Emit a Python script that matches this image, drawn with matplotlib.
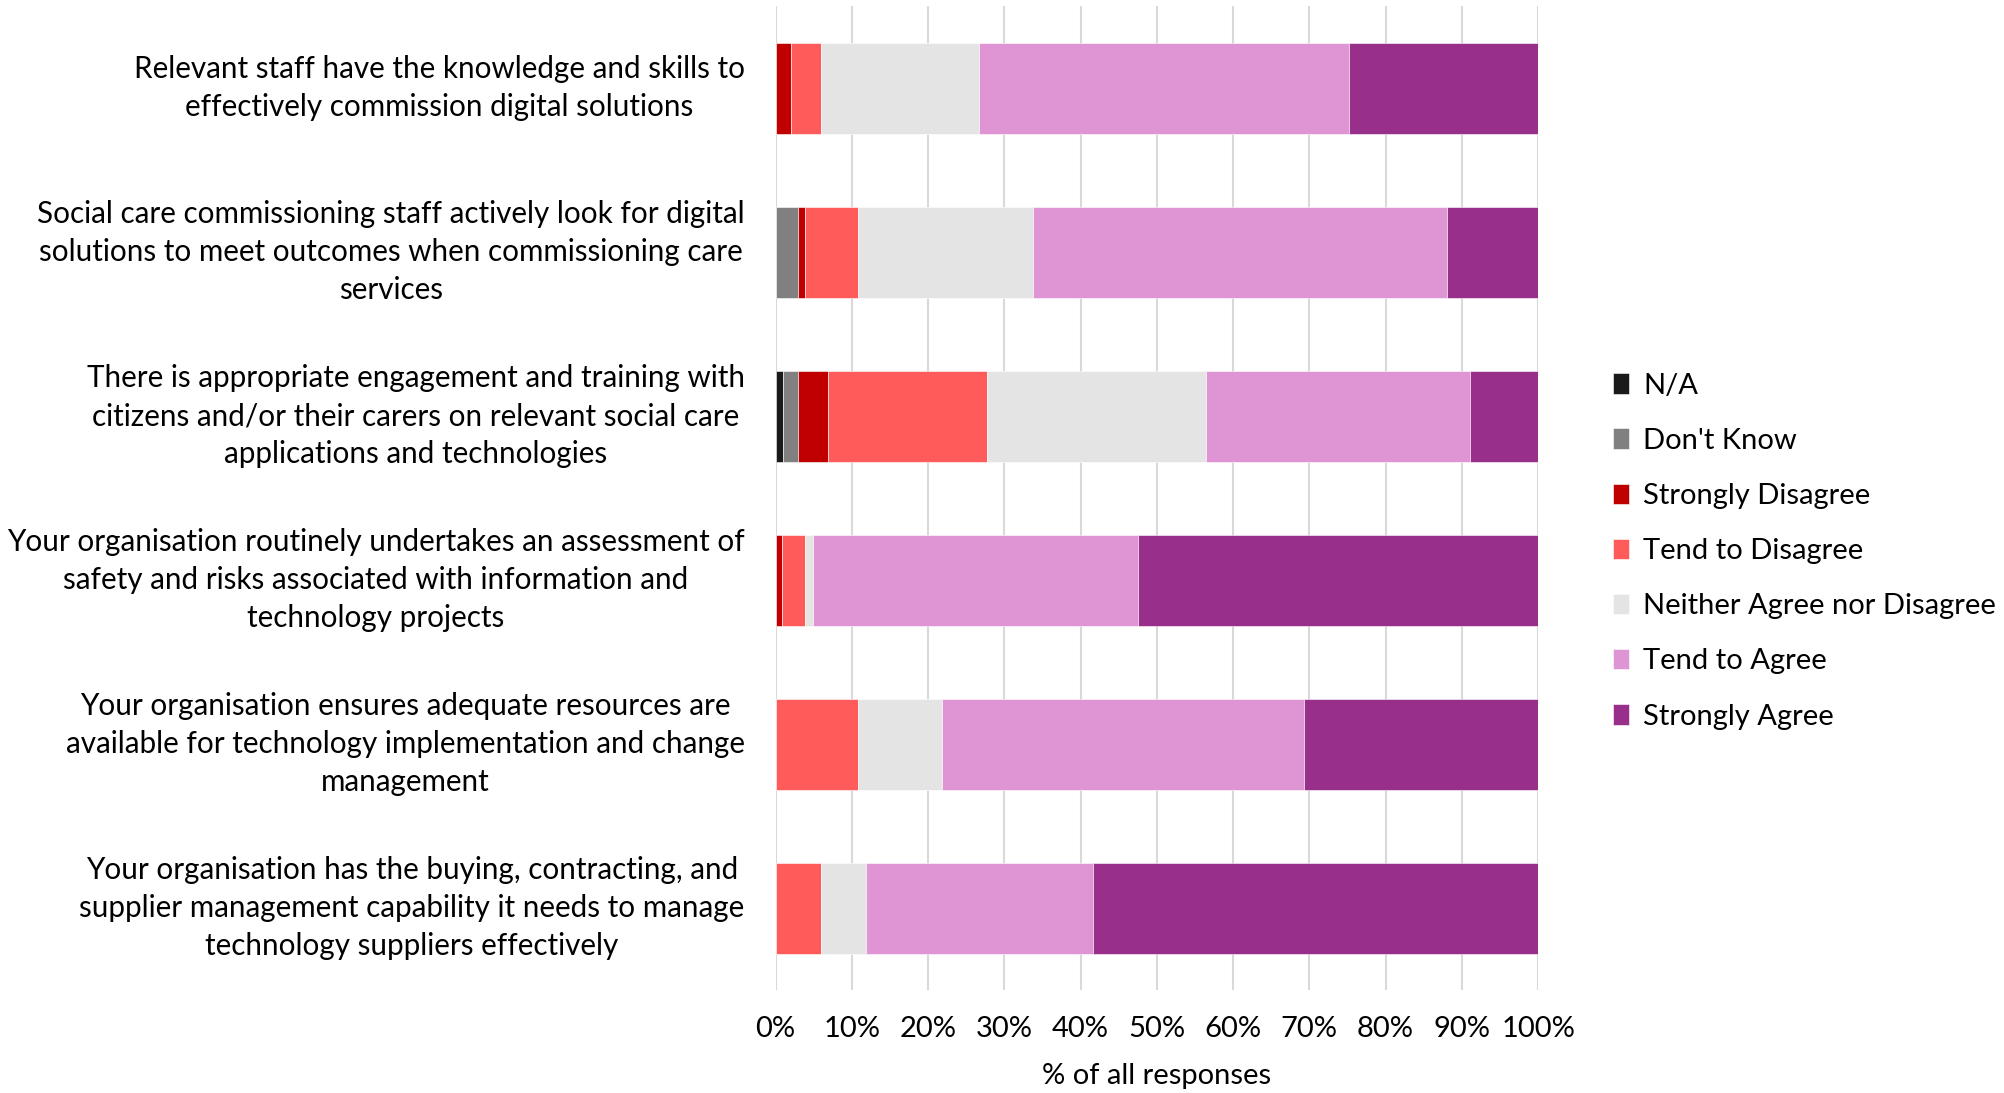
"""Stacked horizontal bar chart of survey responses on digital commissioning."""

import matplotlib.pyplot as plt
import matplotlib.transforms as mtransforms
import numpy as np

statements = [
    "Relevant staff have the knowledge and skills to\neffectively commission digital solutions",
    "Social care commissioning staff actively look for digital\nsolutions to meet outcomes when commissioning care\nservices",
    "There is appropriate engagement and training with\ncitizens and/or their carers on relevant social care\napplications and technologies",
    "Your organisation routinely undertakes an assessment of\nsafety and risks associated with information and\ntechnology projects",
    "Your organisation ensures adequate resources are\navailable for technology implementation and change\nmanagement",
    "Your organisation has the buying, contracting, and\nsupplier management capability it needs to manage\ntechnology suppliers effectively",
]

responses = ["N/A", "Don't Know", "Strongly Disagree", "Tend to Disagree",
             "Neither Agree nor Disagree", "Tend to Agree", "Strongly Agree"]

# percentages per statement, same order as statements
na = [0.0, 0.0, 1.0, 0.0, 0.0, 0.0]
dont_know = [0.0, 3.0, 2.0, 0.0, 0.0, 0.0]
strongly_disagree = [2.0, 0.9, 3.9, 0.9, 0.0, 0.0]
tend_disagree = [3.9, 6.9, 20.8, 3.0, 10.8, 5.9]
neither = [20.8, 22.9, 28.7, 1.0, 11.0, 6.0]
tend_agree = [48.5, 54.4, 34.7, 42.6, 47.5, 29.7]
strongly_agree = [24.8, 11.9, 8.9, 52.5, 30.7, 58.4]

colours = ["#1a1a1a", "#808080", "#c00000", "#ff5b5b",
           "#e4e4e4", "#df95d3", "#982f8a"]

series = [na, dont_know, strongly_disagree, tend_disagree,
          neither, tend_agree, strongly_agree]

plt.rcParams['font.family'] = ['Lato', 'DejaVu Sans']

fig = plt.figure(figsize=(20.04, 10.93), dpi=100)
ax = fig.add_axes([0.387, 0.0942, 0.3805, 0.9003])

y = np.arange(len(statements))
left = np.zeros(len(statements))
for name, vals, col in zip(responses, series, colours):
    vals = np.array(vals)
    ax.barh(y, vals, left=left, height=0.555, color=col, label=name,
            edgecolor='white', linewidth=0.4, zorder=3)
    left += vals

ax.set_ylim(len(statements) - 0.5, -0.5)
ax.set_xlim(0, 100)
ax.set_yticks(y)
ax.set_yticklabels([])

# statement labels, right-aligned just left of the axis, centred on each bar
offset = mtransforms.ScaledTranslation(-31 / 100, 0, fig.dpi_scale_trans)
for yi, txt in zip(y, statements):
    ax.text(0, yi, txt, transform=ax.get_yaxis_transform() + offset,
            ha='right', va='center', multialignment='center',
            fontsize=21.3, linespacing=1.45)

ax.set_xticks(np.arange(0, 101, 10))
ax.set_xticklabels([f"{v}%" for v in range(0, 101, 10)], fontsize=21)
ax.tick_params(axis='y', length=0)
ax.tick_params(axis='x', length=0, pad=19)
ax.set_xlabel("% of all responses", fontsize=21, labelpad=15)

ax.grid(axis='x', color='#d9d9d9', linewidth=1.5, zorder=0)
ax.set_axisbelow(True)
for s in ax.spines.values():
    s.set_visible(False)

ax.legend(loc='center left', bbox_to_anchor=(1.0635, 0.446), frameon=False,
          fontsize=21, handlelength=0.55, handleheight=0.7,
          handletextpad=0.5, labelspacing=1.0)

fig.savefig("out.png", dpi=100)
